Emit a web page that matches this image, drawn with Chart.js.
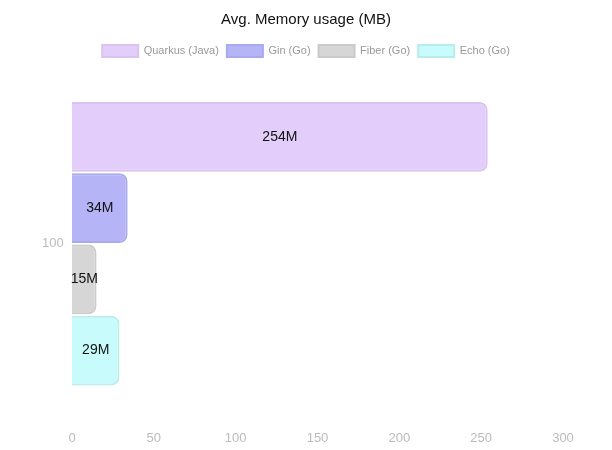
<!DOCTYPE html>
<html>
<head>
<meta charset="utf-8">
<script src="https://cdn.jsdelivr.net/npm/chart.js@4.4.0/dist/chart.umd.min.js"></script>
<style>
  html, body { margin: 0; padding: 0; background: #fff; }
  #wrap { width: 612px; height: 450px; }
</style>
</head>
<body>
<div id="wrap"><canvas id="memChart"></canvas></div>
<script>
// ===== DATA =====
const categories = ["100"];
const seriesNames = ["Quarkus (Java)", "Gin (Go)", "Fiber (Go)", "Echo (Go)"];
const quarkusMem = [254];
const ginMem = [34];
const fiberMem = [15];
const echoMem = [29];
const xTicks = [0, 50, 100, 150, 200, 250, 300];

const fills = ["#e3cdfa", "#b4b4f6", "#d6d6d6", "#c8fcfc"];
const borders = ["#d9c3f0", "#a9a9ee", "#cacaca", "#b9ecec"];
const FONT = "'Liberation Sans', Arial, sans-serif";

// simple label plugin (no datalabels available offline)
const barLabels = {
  id: "barLabels",
  afterDatasetsDraw(chart) {
    const ctx = chart.ctx;
    ctx.save();
    ctx.font = "14px " + FONT;
    ctx.fillStyle = "#111";
    ctx.textAlign = "center";
    ctx.textBaseline = "middle";
    chart.data.datasets.forEach((ds, i) => {
      chart.getDatasetMeta(i).data.forEach((bar, j) => {
        const x = (bar.x + bar.base) / 2;
        ctx.fillText(ds.data[j] + "M", x, bar.y);
      });
    });
    ctx.restore();
  }
};

// pull the plot a bit closer to the legend
const legendGap = {
  id: "legendGap",
  beforeInit(chart) {
    const origFit = chart.legend.fit;
    chart.legend.fit = function () {
      origFit.call(this);
      this.height -= 6;
    };
  }
};

const allSeries = [quarkusMem, ginMem, fiberMem, echoMem];

new Chart(document.getElementById("memChart"), {
  type: "bar",
  data: {
    labels: categories,
    datasets: allSeries.map((d, i) => ({
      label: seriesNames[i],
      data: d,
      backgroundColor: fills[i],
      borderColor: borders[i],
      borderWidth: 2,
      borderRadius: 8,
      borderSkipped: "start",
      barPercentage: 0.98,
      categoryPercentage: 0.78
    }))
  },
  plugins: [barLabels, legendGap],
  options: {
    indexAxis: "y",
    responsive: true,
    maintainAspectRatio: false,
    animation: false,
    layout: { padding: { left: 49, right: 49, top: 4, bottom: 0 } },
    plugins: {
      title: {
        display: true,
        text: "Avg. Memory usage (MB)",
        color: "#111",
        font: { family: FONT, size: 15, weight: "normal" },
        padding: { top: 7, bottom: 8 }
      },
      legend: {
        labels: {
          color: "#999",
          boxWidth: 36,
          boxHeight: 12,
          padding: 8,
          font: { family: FONT, size: 11 }
        }
      },
      tooltip: { enabled: false }
    },
    scales: {
      x: {
        min: 0,
        max: 300,
        afterBuildTicks: (axis) => { axis.ticks = xTicks.map(v => ({ value: v })); },
        grid: { display: false, drawTicks: false },
        border: { display: false },
        ticks: {
          color: "#bbb",
          padding: 4,
          font: { family: FONT, size: 13 }
        }
      },
      y: {
        afterFit: (axis) => { axis.width = 23; },
        grid: { display: false, drawTicks: false },
        border: { display: false },
        ticks: {
          color: "#bbb",
          mirror: true,
          padding: -30,
          font: { family: FONT, size: 13 }
        }
      }
    }
  }
});
</script>
</body>
</html>
